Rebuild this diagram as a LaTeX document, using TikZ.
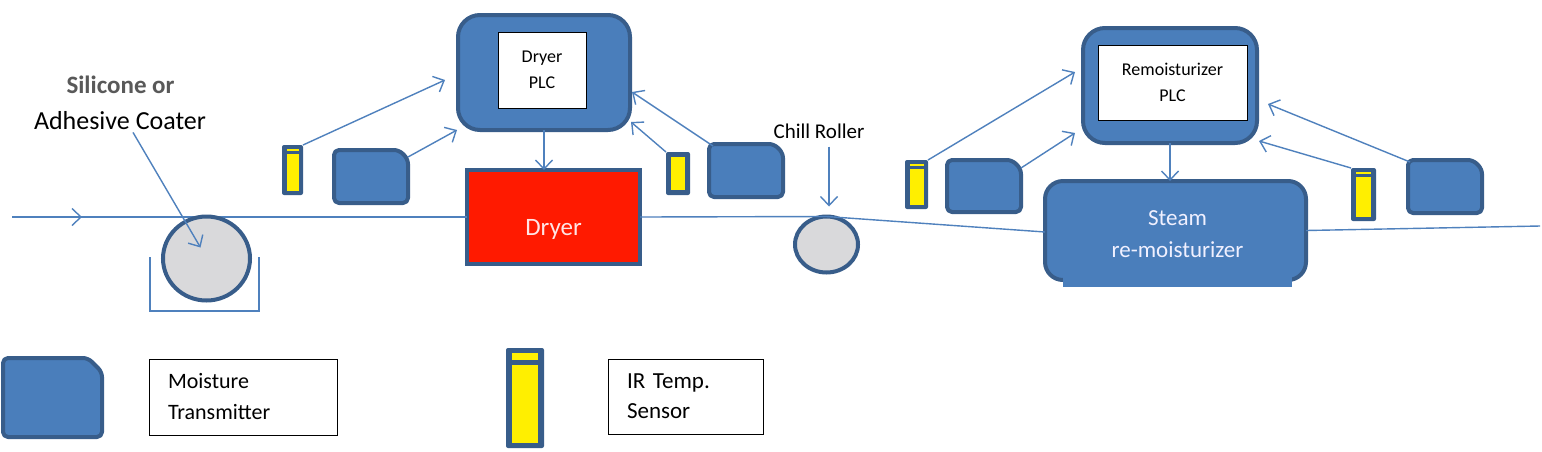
\documentclass[tikz,border=0pt]{standalone}
\usepackage{fontspec}
\setmainfont{Carlito}
\usetikzlibrary{arrows.meta,calc,shapes.geometric}
\definecolor{ofblue}{HTML}{4A7EBB}
\definecolor{ofdark}{HTML}{385D8A}
\definecolor{lineblue}{HTML}{4F81BD}
\definecolor{iryellow}{HTML}{FFEF00}
\definecolor{dryred}{HTML}{FF1A00}
\definecolor{rollgray}{HTML}{D9D9DB}
\definecolor{labelgray}{HTML}{595959}
\newcommand\mtshape[2]{% node name, chamfer
  \draw[mtstyle] (#1.south west) [rounded corners=5pt] -- (#1.north west) -- ([xshift=-#2pt]#1.north east) -- ([yshift=-#2pt]#1.north east) -- (#1.south east) -- cycle;}
\newcommand\irfill[6]{% name, xmargin, topmargin, striph, gap, bottommargin
  \fill[iryellow] ([shift={(#2pt,-#3pt)}]#1.north west) rectangle ([shift={(-#2pt,-#3pt-#4pt)}]#1.north east);
  \fill[iryellow] ([shift={(#2pt,-#3pt-#4pt-#5pt)}]#1.north west) rectangle ([shift={(-#2pt,#6pt)}]#1.south east);}
\begin{document}
\begin{tikzpicture}[x=1pt,y=-1pt,
  box/.style={rectangle,inner sep=0pt,outer sep=0pt},
  mtnode/.style={box},
  mtstyle/.style={fill=ofblue,draw=ofdark,line width=4pt,line join=round},
  plcouter/.style={box,fill=ofblue,draw=ofdark,line width=4pt,rounded corners=22pt},
  plcinner/.style={box,fill=white,draw=black,line width=0.8pt,align=center,font=\fontsize{18}{26}\selectfont},
  sensorbox/.style={box,fill=ofdark,rounded corners=2pt},
  roll/.style={ellipse,inner sep=0pt,outer sep=0pt,fill=rollgray,draw=ofdark,line width=4pt},
  web/.style={draw=lineblue,line width=1.4pt},
  link/.style={draw=lineblue,line width=1.4pt,-{Straight Barb[length=9pt,width=17pt,line width=1.4pt]}},
  legendbox/.style={box,draw=black,line width=0.8pt,align=left}
  ]
\useasboundingbox (0,0) rectangle (1542,451);
\fill[white] (0,0) rectangle (1542,451);

% nodes (geometry)
\node[plcouter,minimum width=172,minimum height=115] (dplc) at (544,72.5) {};
\node[plcinner,minimum width=88,minimum height=76] (dplcin) at (542,70) {Dryer\\PLC};
\node[box,fill=dryred,draw=ofdark,line width=4pt,minimum width=173,minimum height=94] (dryer) at (553.5,217) {};
\node[plcouter,minimum width=174,minimum height=115] (rplc) at (1170,85.5) {};
\node[plcinner,minimum width=149,minimum height=75] (rplcin) at (1172.5,82.5) {Remoisturizer\\PLC};

\coordinate (webstart) at (12,217);
\coordinate (webmark) at (82,217);
\coordinate (webend) at (1540,226);

\node[box,fill=ofblue,draw=ofdark,line width=4pt,rounded corners=18pt,minimum width=261,minimum height=99] (steam) at (1175.5,230.5) {};

% web line
\draw[web] (webstart) -- (dryer.west);
\draw[web,-{Straight Barb[length=9pt,width=17pt,line width=1.4pt]}] (webstart) -- (webmark);
\node[roll,minimum width=63,minimum height=56] (chill) at (826.5,244.5) {};
\draw[web] (dryer.east) -- (chill.north) -- ($(steam.west)+(0,1.5)$);
\draw[web] (steam.east) -- (webend);

% steam tab
\fill[ofblue] (1063,276) rectangle (1292,287);
\node[font=\fontsize{23}{32}\selectfont,text=white!94!blue,align=center,inner sep=0pt] (steamtxt) at (1177.5,234) {Steam\\re-moisturizer};

% coater roll and trough
\node[roll,minimum width=87,minimum height=84] (coat) at (206.5,258.5) {};
\draw[web] (150,257) -- (150,311) -- (259,311) -- (259,257);

% dryer text
\node[font=\fontsize{25}{30}\selectfont,text=white!90!red,anchor=base,inner sep=0pt] (dryertxt) at (553.5,235) {Dryer};

% sensors
\node[sensorbox,minimum width=21,minimum height=50] (s1) at (292.5,170) {};
\irfill{s1}{4.5}{4}{1.5}{3}{4}
\node[sensorbox,minimum width=24,minimum height=43] (s2) at (678,173.5) {};
\irfill{s2}{5}{5}{0}{0}{5}
\node[sensorbox,minimum width=23,minimum height=49] (s3) at (916.5,184.5) {};
\irfill{s3}{4.5}{4}{1.5}{3}{4}
\node[sensorbox,minimum width=25,minimum height=53] (s4) at (1363.5,194.5) {};
\irfill{s4}{5}{4}{1.5}{3}{4}
\node[sensorbox,minimum width=38,minimum height=100] (sleg) at (525,398) {};
\irfill{sleg}{6}{5}{7}{5}{5}

% moisture transmitters
\node[mtnode,minimum width=74,minimum height=53] (mt1) at (371,176.5) {};
\mtshape{mt1}{9}
\node[mtnode,minimum width=74,minimum height=53] (mt2) at (746,170.5) {};
\mtshape{mt2}{9}
\node[mtnode,minimum width=74,minimum height=52] (mt3) at (984,186) {};
\mtshape{mt3}{9}
\node[mtnode,minimum width=74,minimum height=53] (mt4) at (1445,186.5) {};
\mtshape{mt4}{9}
\node[mtnode,minimum width=99,minimum height=79] (mtleg) at (52.5,397.5) {};
\mtshape{mtleg}{14}

% labels
\node[font=\bfseries\fontsize{25}{30}\selectfont,text=labelgray,anchor=base,inner sep=0pt] (silicone) at (120.5,93) {Silicone or};
\node[font=\fontsize{26}{30}\selectfont,anchor=base,inner sep=0pt] (coater) at (120,129) {Adhesive Coater};
\node[font=\fontsize{21}{26}\selectfont,anchor=base,inner sep=0pt] (chilllbl) at (819,138) {Chill Roller};

% links
\draw[link] ($(coater.south)+(13,3)$) -- ($(coat.center)+(-6,-11)$);
\draw[link] ($(chill.north)+(2.5,-70)$) -- ($(chill.north)+(2.5,-10)$);
\draw[link] (s1.north east) -- ($(dplc.west)+(-13,7.5)$);
\draw[link] ($(mt1.north east)+(0,7)$) -- ($(dplc.south west)+(-1,0)$);
\draw[link] (s2.north west) -- ($(dplc.south east)+(1,-8)$);
\draw[link] ($(mt2.north west)+(4,2)$) -- ($(dplc.east)+(2,19.5)$);
\draw[link] (dplc.south) -- (dplc.south |- dryer.north);
\draw[link] (s3.north east) -- ($(rplc.west)+(-8,-13.5)$);
\draw[link] ($(mt3.north east)+(0,8)$) -- ($(rplc.south west)+(-8,-10)$);
\draw[link] (s4.north west) -- ($(rplc.south east)+(2,-2)$);
\draw[link] ($(mt4.north west)+(2,2)$) -- ($(rplc.east)+(11,18.5)$);
\draw[link] (rplc.south) -- (rplc.south |- steam.north);

% legend boxes
\node[legendbox,font=\fontsize{22}{31}\selectfont,minimum width=188,minimum height=76,text width=150,inner xsep=19pt] (mtlegtxt) at (243,397) {Moisture\\Transmitter};
\node[legendbox,font=\fontsize{23}{30}\selectfont,minimum width=155,minimum height=75,text width=117,inner xsep=19pt] (irlegtxt) at (685.5,396.5) {IR Temp.\\Sensor};
\end{tikzpicture}
\end{document}
